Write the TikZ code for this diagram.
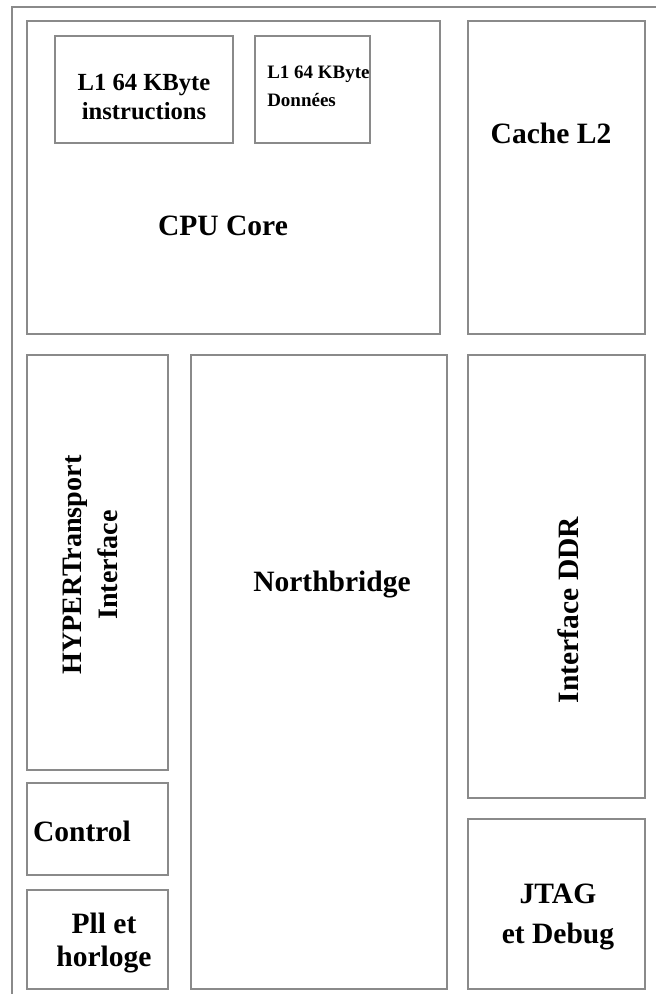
\documentclass[tikz,border=0pt]{standalone}
\usepackage{fontspec}
\setmainfont{Liberation Serif}
\definecolor{boxgray}{RGB}{138,138,138}

\begin{document}
\begin{tikzpicture}[x=0.025cm,y=-0.025cm,
    bloc/.style={draw=boxgray,line width=1.3pt},
    lbl/.style={font=\bfseries\fontsize{21}{25}\selectfont,align=center,inner sep=0pt},
    small/.style={lbl,font=\bfseries\fontsize{17.5}{20.5}\selectfont}]
  \useasboundingbox (0,0) rectangle (656,994);
  % chip outline
  \draw[bloc] (12,994) -- (12,7) -- (656,7);
  % top row
  \draw[bloc] (27,21) rectangle (440,334);
  \draw[bloc] (55,36) rectangle (233,143);
  \draw[bloc] (255,36) rectangle (370,143);
  \draw[bloc] (468,21) rectangle (645,334);
  % left column
  \draw[bloc] (27,355) rectangle (168,770);
  \draw[bloc] (27,783) rectangle (168,875);
  \draw[bloc] (27,890) rectangle (168,989);
  % middle and right
  \draw[bloc] (191,355) rectangle (447,989);
  \draw[bloc] (468,355) rectangle (645,798);
  \draw[bloc] (468,819) rectangle (645,989);

  \node[small] (l1instr) at (144,97) {L1 64 KByte\\instructions};
  \node[small,font=\bfseries\fontsize{13.5}{20}\selectfont,align=left,anchor=west] (l1data) at (267,86) {L1 64 KByte\\Données};
  \node[lbl] (cpu) at (223,226) {CPU Core};
  \node[lbl] (l2) at (551,133) {Cache L2};
  \node[lbl,rotate=90,font=\bfseries\fontsize{20}{25.5}\selectfont] (ht) at (90,565) {HYPERTransport\\Interface};
  \node[lbl] (ctrl) at (82,831) {Control};
  \node[lbl,font=\bfseries\fontsize{21}{23}\selectfont] (pll) at (104,943) {Pll et\\horloge};
  \node[lbl] (nb) at (332,585) {Northbridge};
  \node[lbl,rotate=90] (ddr) at (568,610) {Interface DDR};
  \node[lbl,font=\bfseries\fontsize{21}{28.5}\selectfont] (jtag) at (558,917) {JTAG\\et Debug};
\end{tikzpicture}
\end{document}
